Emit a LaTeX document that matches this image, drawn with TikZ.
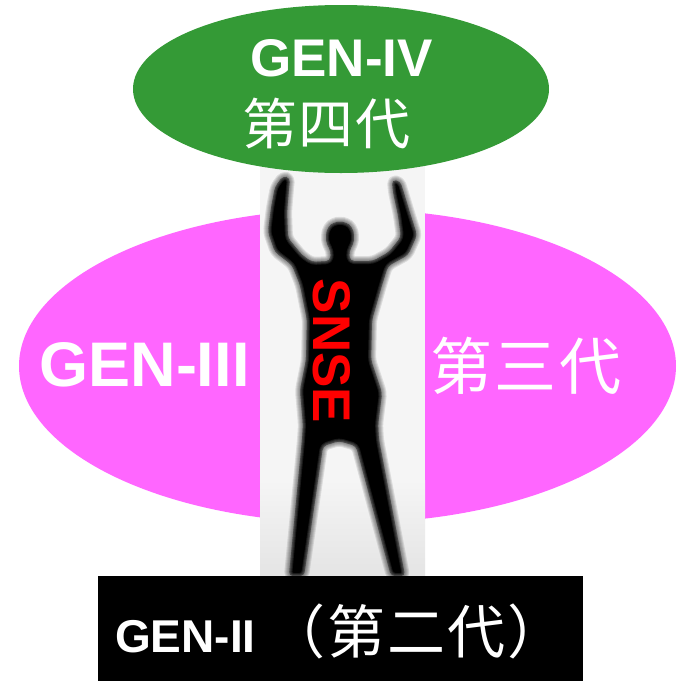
\documentclass[tikz,border=0pt]{standalone}
\usepackage{fontspec}
\setmainfont{Liberation Sans}
\newfontfamily\cjk{Noto Sans CJK SC}
\definecolor{genfour}{RGB}{52,154,54}
\definecolor{genthree}{RGB}{255,102,255}
\definecolor{stripbg}{RGB}{245,245,245}
\definecolor{stripdark}{RGB}{228,228,228}
% one CJK character centred in a cell of the given width
\newcommand{\cjkcell}[2]{\makebox[#1][c]{#2}}
\begin{document}
\begin{tikzpicture}[x=1pt,y=-1pt,
  whitelabel/.style={inner sep=0pt, text=white},
  latinbold/.style={font=\fontsize{#1}{#1}\selectfont\bfseries},
  cjklabel/.style={font=\fontsize{#1}{#1}\selectfont\cjk},
  figure outline/.style={rounded corners=4pt, insert path={
    (283,176) -- (275,187) -- (271,208) -- (268,232) -- (275,252) -- (292,265)
    -- (300,285) -- (307,320) -- (306,360) -- (300,390) -- (303,425) -- (302,440)
    -- (289,576) -- (304,576) -- (323,446) -- (339,441) -- (356,446) -- (391,576)
    -- (405,576) -- (379,440) -- (378,425) -- (382,393) -- (371,360) -- (372,320)
    -- (382,285) -- (388,266) -- (408,255) -- (417,235) -- (410,213) -- (403,190)
    -- (400,181) -- (392,180) -- (393,192) -- (398,215) -- (401,237) -- (389,252)
    -- (373,261) -- (350,261) -- (349,251)
    -- (353,245) -- (354.5,236) -- (352,227) -- (346.5,222.5) -- (340,221.5)
    -- (333.5,222.5) -- (328,227) -- (325.5,236) -- (327,245)
    -- (331,251) -- (330,261) -- (312,262) -- (302,255)
    -- (288,238) -- (287,212) -- (289,188) -- (290,178) -- cycle}},
  outer blur/.style={draw=black, line width=#1, opacity=0.1, line join=round},
  inner blur/.style={draw=white, line width=#1, opacity=0.1, line join=round}
]
\useasboundingbox (0,0) rectangle (677,681);
\fill[white] (0,0) rectangle (677,681);

% third generation ellipse
\fill[genthree] (347.5,366) ellipse [x radius=328.5, y radius=157];

% central strip with the soft-edged figure
\fill[stripbg] (260,160) rectangle (425,578);
\shade[top color=stripbg, bottom color=stripdark] (260,480) rectangle (425,578);
\foreach \w in {2,4,6,8,10} {
  \path[outer blur=\w pt, figure outline];
}
\fill[black, figure outline];
\begin{scope}
  \clip[figure outline];
  \foreach \w in {2,4,6} {
    \path[inner blur=\w pt, figure outline];
  }
\end{scope}

% fourth generation ellipse
\fill[genfour] (341,89) ellipse [x radius=208, y radius=84];

% second generation bar
\fill[black] (98,576) rectangle (583,681);

% labels
\node[whitelabel, latinbold=53, anchor=base] (g4) at (341.5,76) {GEN-IV};
\node[whitelabel, cjklabel=55, anchor=base] (g4c) at (326.5,144)
  {\cjkcell{57pt}{第}\cjkcell{57pt}{四}\cjkcell{57pt}{代}};
\node[whitelabel, latinbold=63, anchor=base] (g3) at (144.5,386) {GEN-III};
\node[whitelabel, cjklabel=62, anchor=base] (g3c) at (526,389)
  {\cjkcell{64.5pt}{第}\cjkcell{64.5pt}{三}\cjkcell{64.5pt}{代}};
\node[inner sep=0pt, text=red, latinbold=53, rotate=-90] (snse) at (332,351) {SNSE};
\node[whitelabel, latinbold=46, anchor=base west] (g2) at (115,652) {GEN-II};
\node[whitelabel, cjklabel=58, anchor=base west] (g2c) at (266,653)
  {\cjkcell{60pt}{（}\cjkcell{60pt}{第}\cjkcell{60pt}{二}\cjkcell{60pt}{代}\cjkcell{60pt}{）}};
\end{tikzpicture}
\end{document}
